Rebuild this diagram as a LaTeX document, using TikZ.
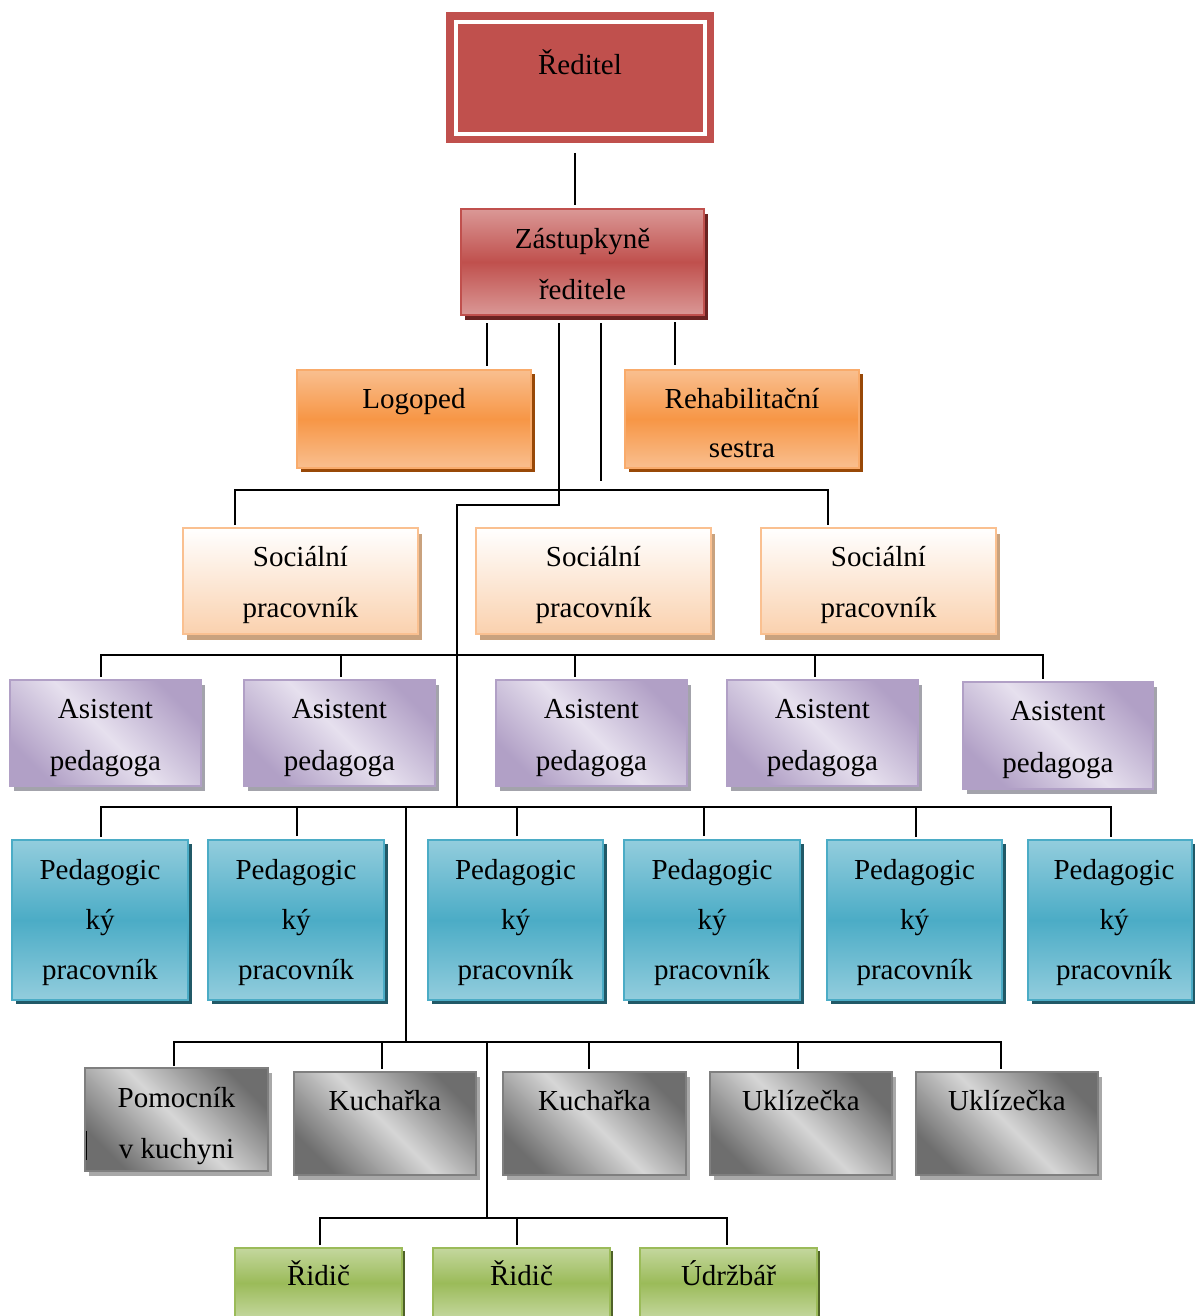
\documentclass[tikz,border=0pt]{standalone}
\usepackage{fontspec}
\setmainfont{Liberation Serif}
\usetikzlibrary{calc,shadows,patterns}
\definecolor{redM}{HTML}{C0504D}
\definecolor{redL}{HTML}{DA9896}
\definecolor{redS}{HTML}{6B2321}
\definecolor{orM}{HTML}{F79646}
\definecolor{orL}{HTML}{F9BF8F}
\definecolor{orS}{HTML}{984807}
\definecolor{peL}{HTML}{FAD1AE}
\definecolor{peB}{HTML}{FAC090}
\definecolor{peS}{HTML}{C9A27E}
\definecolor{puD}{HTML}{B1A0C6}
\definecolor{puL}{HTML}{E6E0EE}
\definecolor{puS}{HTML}{A3A3AB}
\definecolor{blM}{HTML}{4BACC6}
\definecolor{blL}{HTML}{93CDDD}
\definecolor{blS}{HTML}{215967}
\definecolor{grD}{HTML}{6E6E6E}
\definecolor{grL}{HTML}{D6D6D6}
\definecolor{grB}{HTML}{7F7F7F}
\definecolor{grS}{HTML}{A8A8A8}
\definecolor{gnM}{HTML}{9BBB59}
\definecolor{gnL}{HTML}{C4D79E}
\definecolor{gnS}{HTML}{4F6228}
\tikzset{
  x=1pt, y=-1pt,
  box/.style={rectangle, inner sep=0pt, line width=2pt},
  conn/.style={draw=black, line width=1.8pt},
  txt/.style={anchor=base, align=center, inner sep=0pt, font=\fontsize{29}{51}\selectfont},
  ptxt/.style={txt, font=\fontsize{29}{50}\selectfont},
  zbox/.style={box, draw=redM, top color=redL, bottom color=redL, middle color=redM,
     general shadow={fill=redS, shadow xshift=4pt, shadow yshift=-5pt},
     minimum width=243pt, minimum height=106pt},
  obox/.style={box, draw=orM!80!white, top color=orL, bottom color=orL, middle color=orM,
     general shadow={fill=orS, shadow xshift=4pt, shadow yshift=-4pt},
     minimum width=234pt, minimum height=98pt},
  sbox/.style={box, draw=peB, top color=white, bottom color=peL,
     general shadow={fill=peS, shadow xshift=4pt, shadow yshift=-6pt},
     minimum width=235pt, minimum height=106pt},
  abox/.style={box, draw=puD, top color=puD, bottom color=puD, middle color=puL, shading angle=-45,
     general shadow={fill=puS, shadow xshift=4pt, shadow yshift=-5pt},
     minimum width=191pt, minimum height=106pt},
  pbox/.style={box, draw=blM, top color=blL, bottom color=blL, middle color=blM,
     general shadow={fill=blS, shadow xshift=4pt, shadow yshift=-4pt},
     minimum width=176pt, minimum height=160pt},
  gbox/.style={box, draw=grB, top color=grD, bottom color=grD, middle color=grL, shading angle=-45,
     general shadow={fill=grS, shadow xshift=4pt, shadow yshift=-5pt},
     minimum width=182pt, minimum height=103pt},
  rbox/.style={box, draw=gnM, top color=gnL, bottom color=gnL, middle color=gnM,
     general shadow={fill=gnS, shadow xshift=3pt, shadow yshift=-3pt},
     minimum width=177pt, minimum height=70pt},
}
\begin{document}
\begin{tikzpicture}
\useasboundingbox (0,0) rectangle (1194,1316);
\fill[white] (0,0) rectangle (1194,1316);

% boxes
\node[box, fill=redM, minimum width=268pt, minimum height=131pt] (red) at (580,77.5) {};
\draw[white, line width=4pt] ($(red.north west)+(11,11)$) rectangle ($(red.south east)+(-10,-10)$);
\node[zbox] (zast) at (582.5,262) {};
\node[obox] (logo) at (414,419) {};
\node[obox] (rehab) at (742,419) {};
\node[sbox] (s1) at (300.5,581) {};
\node[sbox] (s2) at (593.5,581) {};
\node[sbox] (s3) at (878.5,581) {};
\node[abox] (a1) at (105.5,733) {};
\node[abox] (a2) at (339.5,733) {};
\node[abox] (a3) at (591.5,733) {};
\node[abox] (a4) at (822.5,733) {};
\node[abox, minimum width=190pt, minimum height=107pt] (a5) at (1058,735.5) {};
\node[pbox] (p1) at (100,920) {};
\node[pbox] (p2) at (296,920) {};
\node[pbox, minimum width=175pt] (p3) at (515.5,920) {};
\node[pbox] (p4) at (712,920) {};
\node[pbox, minimum width=175pt] (p5) at (914.5,920) {};
\node[pbox, minimum width=164pt] (p6) at (1110,920) {};
\node[gbox, minimum width=183pt] (g1) at (176.5,1119.5) {};
\node[gbox] (g2) at (385,1123.5) {};
\node[gbox, minimum width=183pt] (g3) at (594.5,1123.5) {};
\node[gbox] (g4) at (801,1123.5) {};
\node[gbox] (g5) at (1007,1123.5) {};
\node[rbox, minimum width=167pt] (r1) at (318.5,1283) {};
\node[rbox] (r2) at (521.5,1283) {};
\node[rbox] (r3) at (728.5,1283) {};

% texts (anchor base = baseline of the last line)
\node[txt] (red-t) at (580,75) {Ředitel};
\node[txt] (zast-t) at (582.5,299) {Zástupkyně\\ředitele};
\node[txt] (logo-t) at (414,408) {Logoped};
\node[txt, font=\fontsize{29}{49}\selectfont] (rehab-t) at (742,457) {Rehabilitační\\sestra};
\node[txt] (s1-t) at (300.5,617) {Sociální\\pracovník};
\node[txt] (s2-t) at (593.5,617) {Sociální\\pracovník};
\node[txt] (s3-t) at (878.5,617) {Sociální\\pracovník};
\node[txt, font=\fontsize{29}{52}\selectfont] (a1-t) at (105.5,770) {Asistent\\pedagoga};
\node[txt, font=\fontsize{29}{52}\selectfont] (a2-t) at (339.5,770) {Asistent\\pedagoga};
\node[txt, font=\fontsize{29}{52}\selectfont] (a3-t) at (591.5,770) {Asistent\\pedagoga};
\node[txt, font=\fontsize{29}{52}\selectfont] (a4-t) at (822.5,770) {Asistent\\pedagoga};
\node[txt, font=\fontsize{29}{52}\selectfont] (a5-t) at (1058,772) {Asistent\\pedagoga};
\node[ptxt] (p1-t) at (100,979) {Pedagogic\\ký\\pracovník};
\node[ptxt] (p2-t) at (296,979) {Pedagogic\\ký\\pracovník};
\node[ptxt] (p3-t) at (515.5,979) {Pedagogic\\ký\\pracovník};
\node[ptxt] (p4-t) at (712,979) {Pedagogic\\ký\\pracovník};
\node[ptxt] (p5-t) at (914.5,979) {Pedagogic\\ký\\pracovník};
\node[ptxt] (p6-t) at (1114,979) {Pedagogic\\ký\\pracovník};
\node[txt] (g1-t) at (176.5,1158) {Pomocník\\v kuchyni};
\node[txt] (g2-t) at (385,1110) {Kuchařka};
\node[txt] (g3-t) at (594.5,1110) {Kuchařka};
\node[txt] (g4-t) at (801,1110) {Uklízečka};
\node[txt] (g5-t) at (1007,1110) {Uklízečka};
\node[txt] (r1-t) at (318.5,1285) {Řidič};
\node[txt] (r2-t) at (521.5,1285) {Řidič};
\node[txt] (r3-t) at (728.5,1285) {Údržbář};

% junction coordinates
\coordinate (e1) at (601,481);
\coordinate (h1) at (600,490);
\coordinate (j1) at (457,505);
\coordinate (j2) at (457,807);
\coordinate (h2) at (457,655);
\coordinate (k2) at (406,1042);
\coordinate (m2) at (487,1218);

% connectors
\draw[conn, shorten <=9pt, shorten >=3pt] ([xshift=-5pt]red.south) -- ([xshift=-5pt]red.south |- zast.north);
\draw[conn, shorten <=7pt, shorten >=3pt] ([xshift=-95.5pt]zast.south) -- ([xshift=-95.5pt]zast.south |- logo.north);
\draw[conn, shorten <=6pt, shorten >=4pt] ([xshift=92.5pt]zast.south) -- ([xshift=92.5pt]zast.south |- rehab.north);
\draw[conn, shorten <=7pt] ([xshift=18.5pt]zast.south) -- (e1);
\draw[conn, shorten <=2pt, shorten >=2pt] ([xshift=-65.5pt]s1.north) |- (h1) -| ([xshift=-50.5pt]s3.north);
\draw[conn, shorten <=7pt] ([xshift=-23.5pt]zast.south) |- (j1) -- (j2);
\draw[conn, shorten <=2pt, shorten >=2pt] ([xshift=-4.5pt]a1.north) |- (h2) -| ([xshift=-15pt]a5.north);
\draw[conn, shorten <=2pt] ([xshift=1.5pt]a2.north) -- ([xshift=1.5pt]a2.north |- h2);
\draw[conn, shorten <=2pt] ([xshift=-16.5pt]a3.north) -- ([xshift=-16.5pt]a3.north |- h2);
\draw[conn, shorten <=2pt] ([xshift=-7.5pt]a4.north) -- ([xshift=-7.5pt]a4.north |- h2);
\draw[conn, shorten <=2pt, shorten >=2pt] ([xshift=1pt]p1.north) |- (j2) -| ([xshift=1pt]p6.north);
\draw[conn, shorten <=3pt] ([xshift=1pt]p2.north) -- ([xshift=1pt]p2.north |- j2);
\draw[conn, shorten <=3pt] ([xshift=1.5pt]p3.north) -- ([xshift=1.5pt]p3.north |- j2);
\draw[conn, shorten <=3pt] ([xshift=-8pt]p4.north) -- ([xshift=-8pt]p4.north |- j2);
\draw[conn, shorten <=2pt] ([xshift=1.5pt]p5.north) -- ([xshift=1.5pt]p5.north |- j2);
\draw[conn] (k2 |- j2) -- (k2);
\draw[conn, shorten <=1pt, shorten >=2pt] ([xshift=-2.5pt]g1.north) |- (k2) -| ([xshift=-6pt]g5.north);
\draw[conn, shorten <=2pt] ([xshift=-3pt]g2.north) -- ([xshift=-3pt]g2.north |- k2);
\draw[conn, shorten <=2pt] ([xshift=-5.5pt]g3.north) -- ([xshift=-5.5pt]g3.north |- k2);
\draw[conn, shorten <=2pt] ([xshift=-3pt]g4.north) -- ([xshift=-3pt]g4.north |- k2);
\draw[conn] (m2 |- k2) -- (m2);
\draw[conn, shorten <=2pt, shorten >=2pt] ([xshift=1.5pt]r1.north) |- (m2) -| ([xshift=-1.5pt]r3.north);
\draw[conn, shorten <=2pt] ([xshift=-4.5pt]r2.north) -- ([xshift=-4.5pt]r2.north |- m2);
\draw[conn] ([xshift=2.5pt,yshift=-11.5pt]g1.west) -- ++(0,29);
\end{tikzpicture}
\end{document}
